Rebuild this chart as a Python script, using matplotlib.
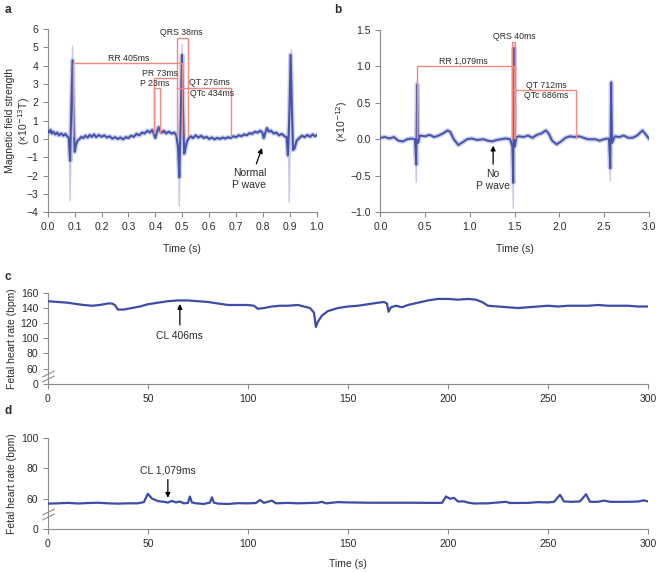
import numpy as np
import matplotlib
matplotlib.use("Agg")
import matplotlib.pyplot as plt
from matplotlib.path import Path

plt.rcParams['font.family'] = ['Liberation Sans', 'DejaVu Sans']
NARROW = ['Liberation Sans Narrow', 'Liberation Sans', 'DejaVu Sans']

# ---------------- data ----------------
# Panel a: averaged MCG trace (time s, field x1e-13 T)
a_t = [0.000, 0.005, 0.010, 0.015, 0.020, 0.028, 0.035, 0.042, 0.050, 0.058, 0.065, 0.072, 0.078,
       0.083, 0.087, 0.092, 0.096, 0.100, 0.104, 0.110, 0.118, 0.125, 0.132, 0.140, 0.148, 0.156,
       0.164, 0.172, 0.180, 0.190, 0.200, 0.210, 0.220, 0.230, 0.240, 0.250, 0.260, 0.270, 0.280,
       0.290, 0.300, 0.310, 0.320, 0.330, 0.340, 0.350, 0.360, 0.370, 0.380, 0.388, 0.395, 0.400,
       0.405, 0.412, 0.418, 0.425, 0.432, 0.440, 0.450, 0.460, 0.470, 0.478, 0.484, 0.489, 0.494,
       0.499, 0.503, 0.507, 0.512, 0.518, 0.525, 0.532, 0.540, 0.550, 0.560, 0.570, 0.580, 0.590,
       0.600, 0.610, 0.620, 0.630, 0.640, 0.650, 0.660, 0.670, 0.680, 0.690, 0.700, 0.710, 0.720,
       0.730, 0.740, 0.750, 0.760, 0.770, 0.780, 0.790, 0.798, 0.803, 0.808, 0.815, 0.822, 0.830,
       0.840, 0.850, 0.860, 0.870, 0.880, 0.888, 0.893, 0.898, 0.903, 0.908, 0.912, 0.918, 0.925,
       0.935, 0.945, 0.955, 0.965, 0.975, 0.985, 0.993, 1.000]
a_v = [0.45, 0.35, 0.50, 0.30, 0.40, 0.25, 0.35, 0.20, 0.30, 0.18, 0.28, 0.15, 0.05,
       -1.20, 1.50, 4.30, 1.00, -0.70, -0.35, -0.10, 0.00, 0.12, 0.05, 0.18, 0.08, 0.22,
       0.12, 0.25, 0.10, 0.22, 0.12, 0.20, 0.08, 0.15, 0.02, 0.10, 0.00, 0.08, -0.02,
       0.10, 0.05, 0.18, 0.12, 0.28, 0.20, 0.35, 0.30, 0.45, 0.35, 0.50, 0.25, 0.05,
       0.35, 0.65, 0.40, 0.35, 0.45, 0.30, 0.40, 0.30, 0.35, 0.20, -0.40, -2.10, 1.00,
       4.60, 1.50, -0.80, -0.50, -0.10, 0.05, 0.15, 0.05, 0.20, 0.08, 0.18, 0.05, 0.12,
       0.00, 0.08, -0.02, 0.06, 0.00, 0.08, 0.02, 0.10, 0.05, 0.15, 0.10, 0.20, 0.15,
       0.25, 0.20, 0.32, 0.28, 0.40, 0.35, 0.45, 0.35, 0.05, 0.30, 0.60, 0.40, 0.45,
       0.30, 0.35, 0.20, 0.28, 0.15, 0.10, -0.90, 1.20, 4.60, 1.50, -0.60, -0.50, -0.10,
       0.05, 0.18, 0.10, 0.22, 0.12, 0.25, 0.15, 0.20]
# faint spikes of individual beats (time, extreme)
a_spike_t = [0.083, 0.092, 0.489, 0.499, 0.898, 0.906]
a_spike_v = [-3.4, 5.1, -3.7, 5.2, -3.5, 4.9]

# Panel b: averaged MCG trace (time s, field x1e-12)
b_t = [0.00, 0.05, 0.10, 0.15, 0.20, 0.25, 0.30, 0.35, 0.385, 0.400, 0.410, 0.420, 0.440, 0.50,
       0.55, 0.60, 0.65, 0.70, 0.75, 0.78, 0.82, 0.87, 0.92, 0.97, 1.02, 1.08, 1.15, 1.20, 1.25,
       1.30, 1.35, 1.40, 1.45, 1.475, 1.485, 1.493, 1.502, 1.52, 1.55, 1.60, 1.65, 1.70, 1.75,
       1.80, 1.85, 1.88, 1.92, 1.97, 2.02, 2.07, 2.12, 2.17, 2.22, 2.27, 2.32, 2.40, 2.45, 2.50,
       2.555, 2.570, 2.580, 2.590, 2.62, 2.67, 2.72, 2.77, 2.82, 2.87, 2.93, 2.97, 3.00]
b_v = [0.02, 0.03, 0.01, 0.03, -0.02, -0.03, 0.00, 0.01, 0.00, -0.35, 0.75, -0.05, 0.05, 0.04,
       0.06, 0.03, 0.05, 0.08, 0.12, 0.10, 0.00, -0.08, -0.04, 0.00, 0.01, -0.01, 0.00, -0.02, -0.03,
       -0.01, 0.00, 0.01, 0.00, -0.10, -0.60, 1.25, -0.10, 0.03, 0.04, 0.03, 0.05, 0.02, 0.06,
       0.08, 0.12, 0.08, -0.02, -0.07, -0.03, 0.02, 0.04, 0.03, 0.04, 0.02, 0.00, 0.00, -0.02, 0.00,
       0.01, -0.40, 0.78, -0.05, 0.04, 0.03, 0.05, 0.02, 0.02, 0.05, 0.12, 0.06, 0.01]
b_spike_t = [0.400, 0.410, 1.485, 1.493, 2.570, 2.580]
b_spike_v = [-0.60, 0.80, -0.95, 1.30, -0.58, 0.80]

# Panel a intervals (s) and levels (x1e-13 T)
a_rr = (0.094, 0.499, 4.16)
a_qrs = (0.482, 0.520, 5.53)
a_pr = (0.394, 0.482, 3.34)
a_p = (0.394, 0.416, 2.79)
a_qt = (0.482, 0.683, 2.79)
a_base = 0.15
a_labels = [("RR 405ms", 0.30, 4.42), ("QRS 38ms", 0.497, 5.80), ("PR 73ms", 0.416, 3.60),
            ("P 23ms", 0.398, 3.05), ("QT 276ms", 0.60, 3.07), ("QTc 434ms", 0.61, 2.50)]

# Panel b intervals
b_rr = (0.41, 1.49, 1.0)
b_qrs = (1.47, 1.51, 1.326)
b_qt = (1.47, 2.19, 0.67)
b_base = 0.02
b_labels = [("QRS 40ms", 1.50, 1.41), ("RR 1,079ms", 0.93, 1.065),
            ("QT 712ms", 1.85, 0.74), ("QTc 686ms", 1.85, 0.60)]

# Panel c: fetal heart rate (time s, bpm)
c_t = [0, 5, 10, 15, 18, 22, 26, 30, 32, 33.5, 35, 38, 42, 46, 50, 55, 60, 65, 70, 75, 80, 85, 90,
       95, 100, 103, 105, 108, 112, 116, 120, 125, 128, 131, 133, 134, 135, 137, 140, 145, 150,
       155, 160, 165, 168, 169.5, 170.3, 171.5, 174, 177, 180, 185, 190, 195, 200, 205, 210, 214,
       217, 220, 225, 230, 235, 240, 245, 250, 255, 260, 265, 270, 275, 280, 285, 290, 295, 300]
c_v = [149, 148, 147, 145, 144, 143, 144, 146, 146, 144, 138, 138, 140, 142, 145, 147, 149, 150,
       150, 149, 148, 146, 144, 144, 144, 143, 139, 140, 142, 143, 143, 144, 142, 140, 134, 115,
       122, 130, 136, 140, 142, 143, 145, 147, 148, 146, 135, 141, 143, 141, 144, 147, 150, 152,
       152, 151, 152, 151, 148, 143, 142, 141, 140, 141, 142, 143, 142, 143, 143, 143, 144, 143,
       143, 143, 142, 142]

# Panel d: fetal heart rate (time s, bpm)
d_t = [0, 5, 10, 15, 20, 25, 30, 35, 40, 45, 48, 50, 52, 55, 58, 60, 62, 64, 66, 68, 70, 71, 72,
       74, 78, 81, 82, 83, 85, 90, 95, 100, 104, 106, 108, 112, 114, 120, 125, 130, 135, 137, 139,
       145, 150, 160, 170, 180, 190, 197, 199, 201, 203, 205, 208, 210, 213, 220, 229, 231, 240,
       245, 250, 253, 256, 258, 262, 266, 269, 271, 275, 278, 281, 290, 295, 298, 300]
d_v = [56.8, 57.0, 57.3, 56.9, 57.2, 57.4, 57.0, 56.8, 57.0, 57.0, 57.8, 63.3, 60.2, 58.5, 58.0,
       57.5, 58.6, 57.6, 58.2, 57.0, 57.3, 61.5, 57.6, 57.0, 56.6, 57.5, 61.0, 57.5, 56.8, 56.6,
       57.1, 57.0, 57.2, 59.2, 57.3, 58.8, 57.0, 57.3, 57.0, 57.2, 57.4, 58.0, 57.0, 57.8, 57.6,
       57.4, 57.4, 57.4, 57.3, 57.3, 61.5, 60.0, 60.6, 58.2, 58.3, 57.5, 56.9, 57.0, 58.0, 57.2,
       57.3, 57.8, 57.6, 58.0, 62.6, 58.2, 58.0, 58.3, 63.0, 58.0, 58.0, 58.8, 58.0, 58.0, 58.2,
       59.0, 58.2]

c_arrow = (66, 149, 114, 103, "CL 406ms")     # x, head, tail, text y
d_arrow = (60, 58.8, 74.5, 78.5, "CL 1,079ms")

# ---------------- styles ----------------
TRACE = '#3d4ca8'
BAND = '#ccd0ec'
SPIKE = '#c6c9e9'
RED = '#f28a80'
SPINE = '#8c8c8c'
TXT = '#2b2b2b'

fig = plt.figure(figsize=(6.64, 5.72), dpi=100)


def style(ax):
    for s in ['top', 'right']:
        ax.spines[s].set_visible(False)
    for s in ['left', 'bottom']:
        ax.spines[s].set_color(SPINE)
        ax.spines[s].set_linewidth(0.8)
    ax.tick_params(axis='both', colors=SPINE, labelcolor=TXT, labelsize=7.5, width=0.8, length=3.5)


def fwd(y):
    y = np.asarray(y, dtype=float)
    return np.where(y >= 50, y, 40 + y / 5.0)


def inv(f):
    f = np.asarray(f, dtype=float)
    return np.where(f >= 50, f, (f - 40) * 5.0)


def spikes(ax, ts, vs, base, halfw):
    for t, v in zip(ts, vs):
        ax.plot([t - halfw, t, t + halfw], [base, v, base], color=SPIKE, lw=1.0,
                solid_joinstyle='miter', zorder=1)


def box(ax, x0, x1, top, base, **kw):
    ax.plot([x0, x0, x1, x1], [base, top, top, base], color=RED, lw=1.0, zorder=4, **kw)


# ---------------- panel a ----------------
axa = fig.add_axes([0.072, 0.629, 0.405, 0.320])
style(axa)
spikes(axa, a_spike_t, a_spike_v, 0.1, 0.004)
axa.plot(a_t, a_v, color=BAND, lw=3.5, solid_joinstyle='round', zorder=2)
axa.plot(a_t, a_v, color=TRACE, lw=1.5, alpha=0.95, zorder=3)
box(axa, a_rr[0], a_rr[1], a_rr[2], a_base)
box(axa, a_qrs[0], a_qrs[1], a_qrs[2], a_base)
axa.plot([a_pr[0], a_pr[0], a_pr[1]], [a_base + 0.2, a_pr[2], a_pr[2]], color=RED, lw=1.0, zorder=4)
box(axa, a_p[0], a_p[1], a_p[2], a_base + 0.2)
axa.plot([a_qt[0], a_qt[1], a_qt[1]], [a_qt[2], a_qt[2], a_base], color=RED, lw=1.0, zorder=4)
for s, x, y in a_labels:
    axa.text(x, y, s, ha='center', va='center', fontsize=6.3, color=TXT, family=NARROW, zorder=5)
axa.annotate('', xy=(0.800, -0.35), xytext=(0.772, -1.5),
             arrowprops=dict(arrowstyle='-|>', color='black', lw=0.9, mutation_scale=7))
axa.text(0.75, -2.2, "Normal\nP wave", ha='center', va='center', fontsize=7.5, color=TXT,
         linespacing=1.2)
axa.set_xlim(0, 1.0)
axa.set_ylim(-4, 6)
axa.set_xticks(np.arange(0, 1.01, 0.1))
axa.set_xticklabels([f"{v:.1f}" for v in np.arange(0, 1.01, 0.1)])
axa.set_yticks(range(-4, 7))
axa.set_yticklabels([str(v).replace('-', '\u2212') for v in range(-4, 7)])
axa.set_xlabel("Time (s)", fontsize=7.5, color=TXT)
axa.xaxis.set_label_coords(0.5, -0.175)
axa.text(-0.14, 0.5, "Magnetic field strength", transform=axa.transAxes, rotation=90,
         ha='center', va='center', fontsize=7.5, color=TXT)
axa.text(-0.088, 0.5, "(\u00d710$^{\u221213}$T)", transform=axa.transAxes, rotation=90,
         ha='center', va='center', fontsize=7.5, color=TXT)

# ---------------- panel b ----------------
axb = fig.add_axes([0.573, 0.629, 0.404, 0.319])
style(axb)
spikes(axb, b_spike_t, b_spike_v, 0.0, 0.008)
axb.plot(b_t, b_v, color=BAND, lw=3.5, solid_joinstyle='round', zorder=2)
axb.plot(b_t, b_v, color=TRACE, lw=1.4, alpha=0.95, zorder=3)
box(axb, b_rr[0], b_rr[1], b_rr[2], b_base)
box(axb, b_qrs[0], b_qrs[1], b_qrs[2], b_base)
axb.plot([b_qt[0], b_qt[1], b_qt[1]], [b_qt[2], b_qt[2], b_base], color=RED, lw=1.0, zorder=4)
for s, x, y in b_labels:
    axb.text(x, y, s, ha='center', va='center', fontsize=6.3, color=TXT, family=NARROW, zorder=5)
axb.annotate('', xy=(1.26, -0.05), xytext=(1.26, -0.38),
             arrowprops=dict(arrowstyle='-|>', color='black', lw=0.9, mutation_scale=7))
axb.text(1.26, -0.56, "No\nP wave", ha='center', va='center', fontsize=7.5, color=TXT,
         linespacing=1.2)
axb.set_xlim(0, 3.0)
axb.set_ylim(-1.0, 1.5)
axb.set_xticks(np.arange(0, 3.01, 0.5))
axb.set_xticklabels([f"{v:.1f}" for v in np.arange(0, 3.01, 0.5)])
yt = np.arange(-1.0, 1.51, 0.5)
axb.set_yticks(yt)
axb.set_yticklabels([f"{v:.1f}".replace('-', '\u2212') for v in yt])
axb.set_xlabel("Time (s)", fontsize=7.5, color=TXT)
axb.set_ylabel("(\u00d710$^{\u221212}$)", fontsize=7.5, color=TXT)
axb.yaxis.set_label_coords(-0.115, 0.5)
axb.xaxis.set_label_coords(0.5, -0.175)

# ---------------- panels c, d ----------------
brk = Path([(-1, -0.9), (1, 0.1), (-1, -0.1), (1, 0.9)],
           [Path.MOVETO, Path.LINETO, Path.MOVETO, Path.LINETO])


def hr_panel(rect, t, v, ymax, yticks, arrow, xlabel):
    ax = fig.add_axes(rect)
    style(ax)
    ax.set_yscale('function', functions=(fwd, inv))
    ax.plot(t, v, color=TRACE, lw=1.6, zorder=3)
    ax.set_xlim(0, 300)
    ax.set_ylim(0, ymax)
    ax.set_xticks(range(0, 301, 50))
    ax.set_yticks(yticks)
    ax.set_yticklabels([str(y) for y in yticks])
    ax.minorticks_off()
    x, head, tail, ty, s = arrow
    ax.annotate('', xy=(x, head), xytext=(x, tail),
                arrowprops=dict(arrowstyle='-|>', color='black', lw=0.9, mutation_scale=7))
    ax.text(x, ty, s, ha='center', va='center', fontsize=7.5, color=TXT)
    ax.plot([0], [50], transform=ax.get_yaxis_transform(), marker=brk, ms=9, mew=0.8,
            color=SPINE, clip_on=False, zorder=6)
    ax.set_ylabel("Fetal heart rate (bpm)", fontsize=7.5, color=TXT)
    ax.yaxis.set_label_coords(-0.052, 0.5)
    if xlabel:
        ax.set_xlabel("Time (s)", fontsize=7.5, color=TXT)
        ax.xaxis.set_label_coords(0.5, -0.33)
    return ax


hr_panel([0.072, 0.329, 0.904, 0.159], c_t, c_v, 160, [0, 60, 80, 100, 120, 140, 160], c_arrow, False)
hr_panel([0.072, 0.075, 0.904, 0.159], d_t, d_v, 100, [0, 60, 80, 100], d_arrow, True)

for s, x, y in [('a', 0.012, 0.982), ('b', 0.509, 0.982), ('c', 0.012, 0.515), ('d', 0.012, 0.281)]:
    fig.text(x, y, s, fontsize=8.5, fontweight='bold', color=TXT, ha='center', va='center')

fig.savefig("out.png", dpi=100)
